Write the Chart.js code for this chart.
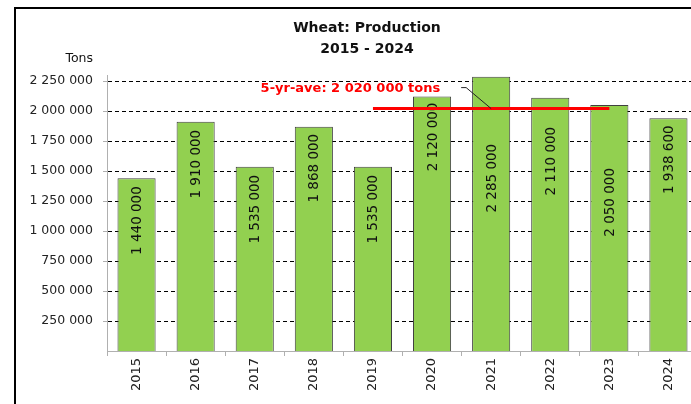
<!DOCTYPE html>
<html>
<head>
<meta charset="utf-8">
<script src="https://cdn.jsdelivr.net/npm/chart.js@4.4.1/dist/chart.umd.min.js"></script>
<style>
  html, body { margin: 0; padding: 0; background: #fff; overflow: hidden; }
  #wrap { position: relative; width: 700px; height: 404px; }
</style>
</head>
<body>
<div id="wrap"><canvas id="chart"></canvas></div>
<script>
// Data
const years = ['2015', '2016', '2017', '2018', '2019', '2020', '2021', '2022', '2023', '2024'];
const production = [1440000, 1910000, 1535000, 1868000, 1535000, 2120000, 2285000, 2110000, 2050000, 1938600];
const fiveYearAve = [null, null, null, null, 2020000, 2020000, 2020000, 2020000, 2020000, null];
const yTicks = [250000, 500000, 750000, 1000000, 1250000, 1500000, 1750000, 2000000, 2250000];
const aveLabel = '5-yr-ave: 2 020 000 tons';

const FONT = '"DejaVu Sans", Verdana, sans-serif';

// Format with space as thousands separator
const fmt = (v) => Math.round(v).toLocaleString('en-US').replace(/,/g, ' ');

// Frame, titles and the average annotation
const decorPlugin = {
    id: 'decor',
    beforeDraw(chart) {
        const ctx = chart.ctx;
        ctx.save();
        ctx.fillStyle = '#fff';
        ctx.fillRect(0, 0, chart.width, chart.height);
        ctx.strokeStyle = '#000';
        ctx.lineWidth = 2;
        ctx.beginPath();
        ctx.moveTo(15, chart.height + 5);
        ctx.lineTo(15, 8);
        ctx.lineTo(chart.width + 5, 8);
        ctx.stroke();
        ctx.restore();
    },
    afterDraw(chart) {
        const ctx = chart.ctx;
        const xs = chart.scales.x;
        const ys = chart.scales.y;
        ctx.save();

        // Title
        ctx.fillStyle = '#111';
        ctx.textAlign = 'center';
        ctx.textBaseline = 'middle';
        ctx.font = `bold 14px ${FONT}`;
        ctx.fillText('Wheat: Production', 367, 28);
        ctx.fillText('2015 - 2024', 367, 49);

        // Unit label
        ctx.font = `12.5px ${FONT}`;
        ctx.textAlign = 'right';
        ctx.fillText('Tons', 93, 59);

        // Average label with leader line
        const yA = ys.getPixelForValue(fiveYearAve[4]);
        const xPeak = xs.getPixelForValue(6);
        ctx.strokeStyle = '#222';
        ctx.lineWidth = 1;
        ctx.beginPath();
        ctx.moveTo(xPeak - 30, yA - 21);
        ctx.lineTo(xPeak - 25, yA - 21);
        ctx.lineTo(xPeak, yA);
        ctx.stroke();

        ctx.fillStyle = '#ff0000';
        ctx.font = `bold 13px ${FONT}`;
        ctx.textAlign = 'right';
        ctx.fillText(aveLabel, xPeak - 51, yA - 20);
        ctx.restore();
    }
};

// Rotated value labels inside the bars
const valueLabelPlugin = {
    id: 'valueLabels',
    afterDatasetDraw(chart, args, opts) {
        if (args.index !== 0) return;
        const ctx = chart.ctx;
        ctx.save();
        ctx.fillStyle = '#111';
        ctx.font = `13.5px ${FONT}`;
        ctx.textAlign = 'right';
        ctx.textBaseline = 'middle';
        args.meta.data.forEach((bar, i) => {
            ctx.save();
            ctx.translate(bar.x + 1, bar.y + opts.offsets[i]);
            ctx.rotate(-Math.PI / 2);
            ctx.fillText(fmt(production[i]), 0, 0);
            ctx.restore();
        });
        ctx.restore();
    }
};

new Chart(document.getElementById('chart'), {
    data: {
        labels: years,
        datasets: [
            {
                type: 'bar',
                data: production,
                backgroundColor: '#92d050',
                borderColor: '#404040',
                borderWidth: 1,
                barPercentage: 0.645,
                categoryPercentage: 1,
                order: 1
            },
            {
                type: 'line',
                data: fiveYearAve,
                borderColor: '#ff0000',
                borderWidth: 3,
                pointRadius: 0,
                fill: false,
                order: 0
            }
        ]
    },
    options: {
        responsive: true,
        maintainAspectRatio: false,
        animation: false,
        layout: { padding: { top: 75, right: 2, left: 0, bottom: 0 } },
        plugins: {
            legend: { display: false },
            tooltip: { enabled: false },
            valueLabels: { offsets: [8, 8, 8, 7, 8, 6, 67, 29, 63, 7] }
        },
        scales: {
            x: {
                offset: true,
                grid: {
                    offset: true,
                    drawOnChartArea: false,
                    tickLength: 5,
                    color: '#b0b0b0'
                },
                border: { color: '#b0b0b0', width: 1 },
                ticks: {
                    minRotation: 90,
                    maxRotation: 90,
                    padding: 2,
                    color: '#222',
                    font: { family: FONT, size: 13 }
                },
                afterFit(scale) { scale.height = 53; }
            },
            y: {
                min: 0,
                max: 2300000,
                afterBuildTicks(scale) {
                    scale.ticks = yTicks.map(v => ({ value: v }));
                },
                grid: {
                    color: '#000',
                    lineWidth: 1,
                    tickLength: 4,
                    tickColor: '#b0b0b0',
                    tickBorderDash: []
                },
                border: { color: '#b0b0b0', width: 1, dash: [4, 3] },
                ticks: {
                    padding: 10,
                    color: '#222',
                    font: { family: FONT, size: 12.5 },
                    callback: (v) => fmt(v)
                },
                afterFit(scale) { scale.width = 107; }
            }
        }
    },
    plugins: [decorPlugin, valueLabelPlugin]
});
</script>
</body>
</html>
